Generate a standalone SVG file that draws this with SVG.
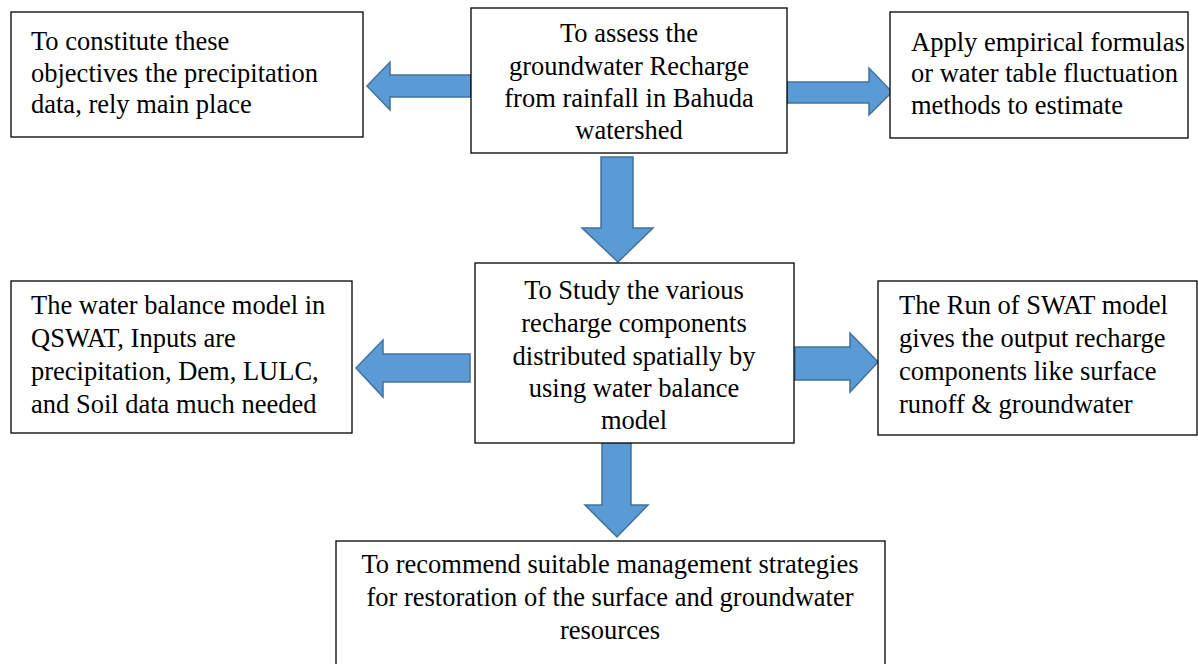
<svg xmlns="http://www.w3.org/2000/svg" width="1198" height="664" viewBox="0 0 1198 664">
<style>
.box{fill:#fff;stroke:#000;stroke-width:1.3}
.arr{fill:#5B9BD5;stroke:#41719C;stroke-width:1.5;stroke-linejoin:miter}
text{font-family:"Liberation Serif","Times New Roman",serif;font-size:26.5px;fill:#000}
.c{text-anchor:middle}
</style>
<rect width="1198" height="664" fill="#fff"/>
<g id="connectors">
<path class="arr" d="M471,75 L390,75 L390,62 L367,86 L390,110 L390,97 L471,97 Z"/>
<path class="arr" d="M787,82 L869,82 L869,68 L892,92 L869,115 L869,103 L787,103 Z"/>
<path class="arr" d="M601,157 L633,157 L633,228 L653,228 L618,262 L582,228 L601,228 Z"/>
<path class="arr" d="M470,354 L383,354 L383,340 L356,368 L383,397 L383,382 L470,382 Z"/>
<path class="arr" d="M795,347 L850,347 L850,333 L878,362 L850,392 L850,380 L795,380 Z"/>
<path class="arr" d="M602,440 L631,440 L631,505 L648,505 L617,537 L585,505 L602,505 Z"/>
</g>
<g id="n1">
<rect class="box" x="11" y="12" width="352" height="125"/>
<text x="31" y="50">To constitute these</text>
<text x="31" y="82">objectives the precipitation</text>
<text x="31" y="113">data, rely main place</text>
</g>
<g id="n2">
<rect class="box" x="471" y="8" width="316" height="145"/>
<text class="c" x="629" y="42">To assess the</text>
<text class="c" x="629" y="75">groundwater Recharge</text>
<text class="c" x="629" y="107">from rainfall in Bahuda</text>
<text class="c" x="629" y="139">watershed</text>
</g>
<g id="n3">
<rect class="box" x="890" y="12" width="298" height="126"/>
<text x="911" y="51">Apply empirical formulas</text>
<text x="911" y="82">or water table fluctuation</text>
<text x="911" y="114">methods to estimate</text>
</g>
<g id="n4">
<rect class="box" x="475" y="263" width="319" height="180"/>
<text class="c" x="634" y="299">To Study the various</text>
<text class="c" x="634" y="332">recharge components</text>
<text class="c" x="634" y="365">distributed spatially by</text>
<text class="c" x="634" y="397">using water balance</text>
<text class="c" x="634" y="429">model</text>
</g>
<g id="n5">
<rect class="box" x="11" y="281" width="341" height="152"/>
<text x="31" y="314">The water balance model in</text>
<text x="31" y="347">QSWAT, Inputs are</text>
<text x="31" y="380">precipitation, Dem, LULC,</text>
<text x="31" y="413">and Soil data much needed</text>
</g>
<g id="n6">
<rect class="box" x="878" y="281" width="319" height="154"/>
<text x="899" y="314">The Run of SWAT model</text>
<text x="899" y="347">gives the output recharge</text>
<text x="899" y="380">components like surface</text>
<text x="899" y="413">runoff &amp; groundwater</text>
</g>
<g id="n7">
<rect class="box" x="336" y="541" width="549" height="130"/>
<text class="c" x="610" y="573">To recommend suitable management strategies</text>
<text class="c" x="610" y="606">for restoration of the surface and groundwater</text>
<text class="c" x="610" y="639">resources</text>
</g>
</svg>
